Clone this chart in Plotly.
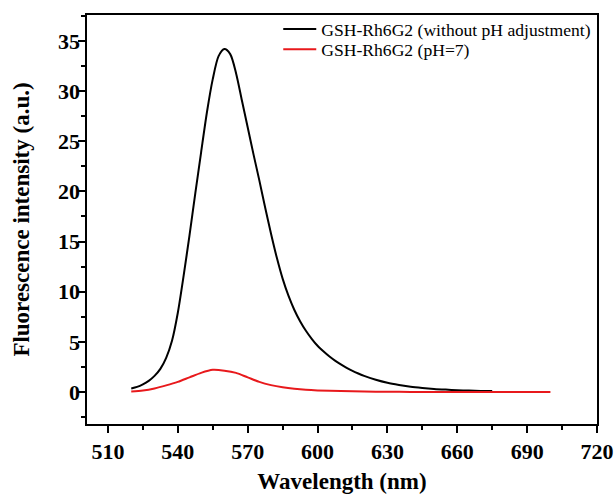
import plotly.graph_objects as go

# Wavelength (nm) and intensities
wl_black = [520, 522.5, 525, 527.5, 530, 532.5, 535, 537.5, 540, 542.5, 545, 547.5, 550, 552.5,
            555, 557.5, 560, 562.5, 565, 567.5, 570, 572.5, 575, 577.5, 580, 582.5, 585, 587.5,
            590, 592.5, 595, 597.5, 600, 602.5, 605, 607.5, 610, 612.5, 615, 617.5, 620, 625,
            630, 635, 640, 645, 650, 655, 660, 665, 670, 675]
int_black = [0.35, 0.5, 0.75, 1.1, 1.6, 2.3, 3.4, 5.1, 7.9, 11.6, 15.6, 19.8, 23.9, 27.9,
             31.2, 33.5, 34.2, 33.7, 31.8, 29.1, 26.4, 23.7, 21.1, 18.4, 15.8, 13.4, 11.3, 9.6,
             8.2, 7.05, 6.1, 5.3, 4.6, 4.05, 3.55, 3.12, 2.75, 2.4, 2.1, 1.84, 1.6, 1.22,
             0.92, 0.7, 0.52, 0.4, 0.3, 0.23, 0.17, 0.13, 0.1, 0.08]

wl_red = [520, 525, 530, 535, 540, 545, 550, 555, 560, 565, 570, 575, 580, 585, 590, 595,
          600, 610, 620, 630, 640, 650, 660, 670, 680, 690, 700]
int_red = [0.05, 0.15, 0.35, 0.65, 1.0, 1.45, 1.9, 2.2, 2.12, 1.9, 1.45, 1.0, 0.68, 0.46, 0.31, 0.21,
           0.15, 0.08, 0.04, 0.02, 0.0, -0.01, -0.02, -0.02, -0.02, -0.02, -0.02]

names = ["GSH-Rh6G2 (without pH adjustment)", "GSH-Rh6G2 (pH=7)"]
x_ticks = [510, 540, 570, 600, 630, 660, 690, 720]
y_ticks = [0, 5, 10, 15, 20, 25, 30, 35]
x_range = [501, 720]
y_range = [-3.2, 37.6]

serif = "Liberation Serif, Times New Roman, serif"
tick_font = dict(family=serif, size=22, color="black", weight="bold")
title_font = dict(family=serif, size=23, color="black", weight="bold")

fig = go.Figure()
fig.add_trace(go.Scatter(x=wl_black, y=int_black, mode="lines", name=names[0], legend="legend",
                         line=dict(color="black", width=2, shape="spline", smoothing=0.8)))
fig.add_trace(go.Scatter(x=wl_red, y=int_red, mode="lines", name=names[1], legend="legend2",
                         yaxis="y2",
                         line=dict(color="#e8191c", width=2, shape="spline", smoothing=0.8)))

fig.update_layout(
    xaxis=dict(range=x_range, tickvals=x_ticks, showline=True, linecolor="black", linewidth=2, mirror=True,
               ticks="outside", ticklen=7, tickwidth=2, tickcolor="black", showgrid=False, zeroline=False,
               automargin=False, tickfont=tick_font,
               minor=dict(dtick=15, tick0=510, ticks="outside", ticklen=4, tickwidth=2, tickcolor="black"),
               title=dict(text="Wavelength (nm)", font=title_font, standoff=15)),
    yaxis=dict(range=y_range, tickvals=y_ticks, showline=True, linecolor="black", linewidth=2, mirror=True,
               ticks="outside", ticklen=7, tickwidth=2, tickcolor="black", showgrid=False, zeroline=False,
               automargin=False, showticklabels=False,
               minor=dict(dtick=2.5, tick0=0, ticks="outside", ticklen=4, tickwidth=2, tickcolor="black")),
    # same scale as y (matches), carries the tick labels closer to the ticks
    yaxis2=dict(range=y_range, tickvals=y_ticks, overlaying="y", side="left", matches="y",
                showline=False, ticks="", showgrid=False, zeroline=False, automargin=False,
                tickfont=tick_font, ticklabelstandoff=6,
                title=dict(text="Fluorescence intensity (a.u.)", font=title_font, standoff=21)),
)

leg_common = dict(xanchor="left", yanchor="middle", bgcolor="rgba(0,0,0,0)", borderwidth=0,
                  font=dict(family=serif, size=17.6, color="black"), itemwidth=33)

fig.update_layout(
    width=614, height=494,
    margin=dict(l=87, r=17, t=14, b=70),
    plot_bgcolor="white", paper_bgcolor="white",
    showlegend=True,
    legend=dict(x=0.375, y=0.963, **leg_common),
    legend2=dict(x=0.375, y=0.914, **leg_common),
)

fig.write_html("out.html", config={"displayModeBar": False},
               post_script="document.body.style.margin='0';document.body.style.overflow='hidden';")
